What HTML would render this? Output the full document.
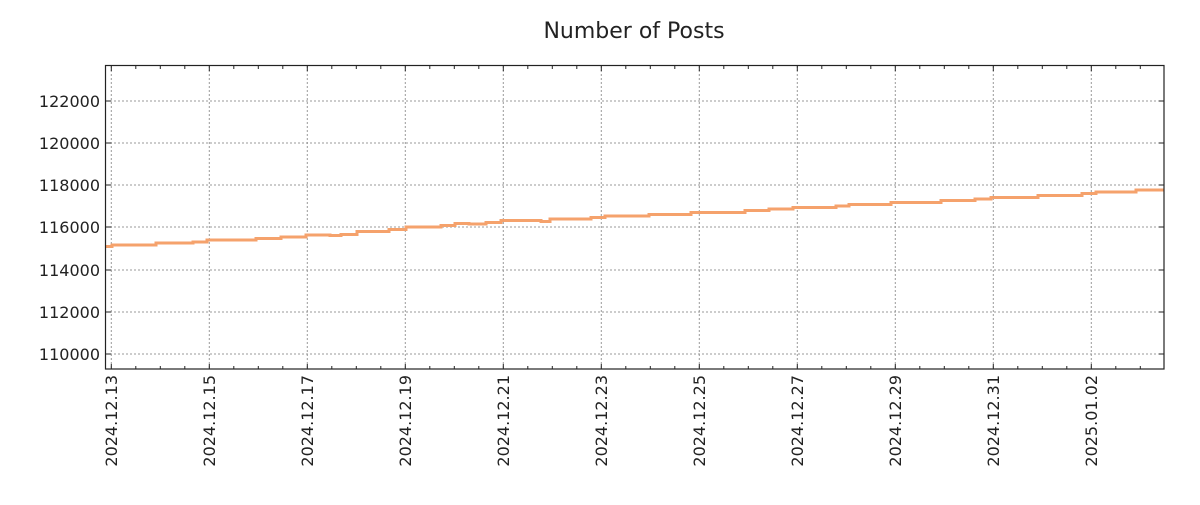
<!DOCTYPE html>
<html><head><style>body{margin:0;background:#fff}</style></head><body>
<svg width="1200" height="500" xmlns="http://www.w3.org/2000/svg" font-family="DejaVu Sans, Liberation Sans, sans-serif">
<text x="634" y="38" font-size="22" text-anchor="middle" fill="#222">Number of Posts</text>
<g stroke="#999" stroke-dasharray="2,2" stroke-width="1">
<line x1="106" x2="1164" y1="354" y2="354"/><line x1="106" x2="1164" y1="312" y2="312"/><line x1="106" x2="1164" y1="270" y2="270"/><line x1="106" x2="1164" y1="227" y2="227"/><line x1="106" x2="1164" y1="185" y2="185"/><line x1="106" x2="1164" y1="143" y2="143"/><line x1="106" x2="1164" y1="101" y2="101"/>
<line y1="66" y2="369" x1="111.3" x2="111.3"/><line y1="66" y2="369" x1="209.3" x2="209.3"/><line y1="66" y2="369" x1="307.3" x2="307.3"/><line y1="66" y2="369" x1="405.3" x2="405.3"/><line y1="66" y2="369" x1="503.3" x2="503.3"/><line y1="66" y2="369" x1="601.3" x2="601.3"/><line y1="66" y2="369" x1="699.3" x2="699.3"/><line y1="66" y2="369" x1="797.3" x2="797.3"/><line y1="66" y2="369" x1="895.3" x2="895.3"/><line y1="66" y2="369" x1="993.3" x2="993.3"/><line y1="66" y2="369" x1="1091.3" x2="1091.3"/>
</g>
<path fill="none" stroke="#f5a26c" stroke-width="3" d="M105 246.5H112V245H156V243H193V242H207V240H256V238.5H281V237H306V235H330V235.5H341V234.5H357V231.5H389V229.5H406V227H441V225.5H455V223.5H469V224H486V222.5H501V220.5H541V221.5H550V219H591V217.5H605V216H649V214.5H691V212.5H711V212.5H745V210.5H769V209H793V207.5H836V206H849V204.5H891V202.5H941V200.5H975V199H991V197.5H1038V195.5H1082V193.5H1096V192H1136V190H1164"/>
<rect x="105.5" y="65.5" width="1058.5" height="303.5" fill="none" stroke="#222" stroke-width="1.2"/>
<g stroke="#222" stroke-width="1">
<path d="M111.3 369v-5M209.3 369v-5M307.3 369v-5M405.3 369v-5M503.3 369v-5M601.3 369v-5M699.3 369v-5M797.3 369v-5M895.3 369v-5M993.3 369v-5M1091.3 369v-5"/>
<path d="M111.3 66v5M209.3 66v5M307.3 66v5M405.3 66v5M503.3 66v5M601.3 66v5M699.3 66v5M797.3 66v5M895.3 66v5M993.3 66v5M1091.3 66v5"/>
<path d="M135.8 369v-3M160.3 369v-3M184.8 369v-3M233.8 369v-3M258.3 369v-3M282.8 369v-3M331.8 369v-3M356.3 369v-3M380.8 369v-3M429.8 369v-3M454.3 369v-3M478.8 369v-3M527.8 369v-3M552.3 369v-3M576.8 369v-3M625.8 369v-3M650.3 369v-3M674.8 369v-3M723.8 369v-3M748.3 369v-3M772.8 369v-3M821.8 369v-3M846.3 369v-3M870.8 369v-3M919.8 369v-3M944.3 369v-3M968.8 369v-3M1017.8 369v-3M1042.3 369v-3M1066.8 369v-3M1115.8 369v-3M1140.3 369v-3"/>
<path d="M135.8 66v3M160.3 66v3M184.8 66v3M233.8 66v3M258.3 66v3M282.8 66v3M331.8 66v3M356.3 66v3M380.8 66v3M429.8 66v3M454.3 66v3M478.8 66v3M527.8 66v3M552.3 66v3M576.8 66v3M625.8 66v3M650.3 66v3M674.8 66v3M723.8 66v3M748.3 66v3M772.8 66v3M821.8 66v3M846.3 66v3M870.8 66v3M919.8 66v3M944.3 66v3M968.8 66v3M1017.8 66v3M1042.3 66v3M1066.8 66v3M1115.8 66v3M1140.3 66v3"/>
<path d="M106 354h5M106 312h5M106 270h5M106 227h5M106 185h5M106 143h5M106 101h5M1164 354h-5M1164 312h-5M1164 270h-5M1164 227h-5M1164 185h-5M1164 143h-5M1164 101h-5"/>
</g>
<g fill="#222" font-size="16" text-anchor="end">
<text x="100" y="360">110000</text><text x="100" y="318">112000</text><text x="100" y="276">114000</text><text x="100" y="233">116000</text><text x="100" y="191">118000</text><text x="100" y="149">120000</text><text x="100" y="107">122000</text>
</g>
<g fill="#222" font-size="16" text-anchor="end">
<text transform="translate(117,375) rotate(-90)">2024.12.13</text>
<text transform="translate(215,375) rotate(-90)">2024.12.15</text>
<text transform="translate(313,375) rotate(-90)">2024.12.17</text>
<text transform="translate(411,375) rotate(-90)">2024.12.19</text>
<text transform="translate(509,375) rotate(-90)">2024.12.21</text>
<text transform="translate(607,375) rotate(-90)">2024.12.23</text>
<text transform="translate(705,375) rotate(-90)">2024.12.25</text>
<text transform="translate(803,375) rotate(-90)">2024.12.27</text>
<text transform="translate(901,375) rotate(-90)">2024.12.29</text>
<text transform="translate(999,375) rotate(-90)">2024.12.31</text>
<text transform="translate(1097,375) rotate(-90)">2025.01.02</text>
</g>
</svg>
</body></html>
